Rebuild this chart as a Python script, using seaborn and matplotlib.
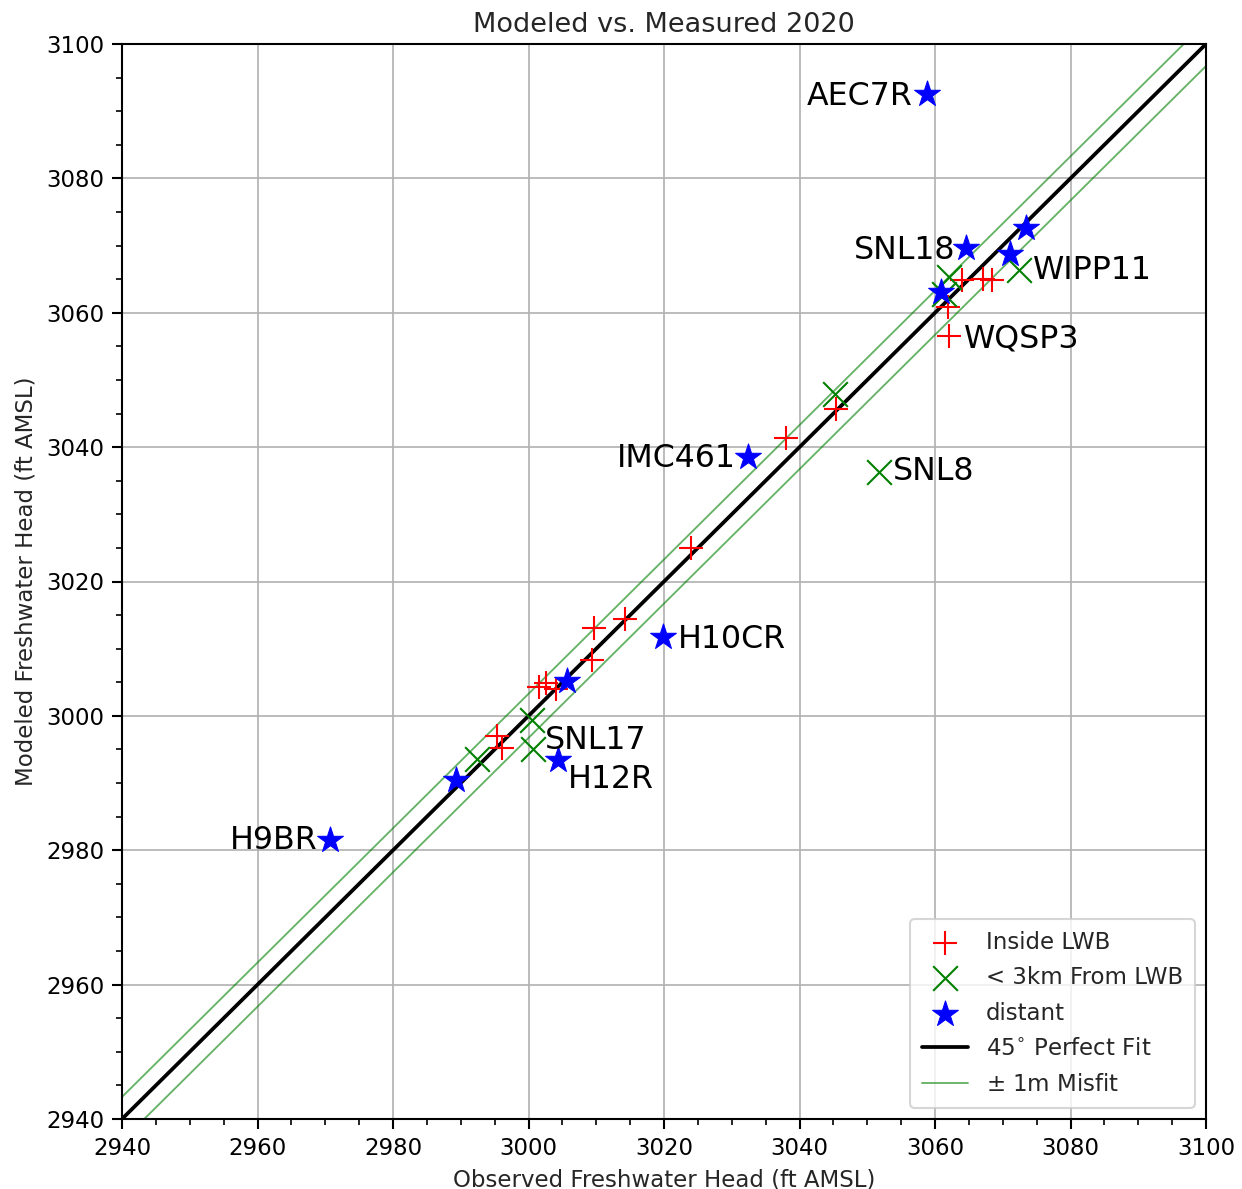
import matplotlib
matplotlib.use("Agg")
import matplotlib.pyplot as plt
import seaborn as sns
import numpy as np
import pandas as pd

# Data (ft AMSL)
inside_obs = [3062.1, 3061.9, 3064.0, 3067.1, 3068.4, 3038.0, 3045.4, 3024.0,
              3009.7, 3014.2, 3009.4, 3001.5, 3002.6, 3004.1, 2995.4, 2996.1]
inside_mod = [3056.5, 3060.9, 3064.9, 3065.0, 3064.9, 3041.4, 3045.7, 3025.0,
              3013.1, 3014.4, 3008.3, 3004.3, 3004.9, 3004.0, 2997.0, 2995.2]

near_obs = [3051.7, 3072.4, 3045.2, 3062.1, 3061.3, 3000.5, 3000.7, 2992.4]
near_mod = [3036.3, 3066.4, 3047.9, 3065.3, 3062.8, 2999.4, 2995.1, 2993.6]

distant_obs = [3058.8, 3064.6, 3073.4, 3071.1, 3060.9, 3032.4, 3019.9, 3005.7,
               3004.4, 2989.3, 2970.7]
distant_mod = [3092.6, 3069.6, 3072.6, 3068.7, 3063.1, 3038.5, 3011.7, 3005.2,
               2993.4, 2990.5, 2981.5]

label_names = ["AEC7R", "SNL18", "WIPP11", "WQSP3", "IMC461", "SNL8",
               "H10CR", "SNL17", "H12R", "H9BR"]
label_obs = [3058.8, 3064.6, 3072.4, 3062.1, 3032.4, 3051.7, 3019.9, 3000.7, 3004.4, 2970.7]
label_mod = [3092.6, 3069.6, 3066.4, 3056.5, 3038.5, 3036.3, 3011.7, 2995.1, 2993.4, 2981.5]

axis_range = [2940, 3100]
misfit_ft = 3.28

# label placement (offset in pixels, alignment)
label_style = {
    "AEC7R": (-14, -3, "right"),
    "SNL18": (-11, -2, "right"),
    "WIPP11": (14, -1, "left"),
    "WQSP3": (15, -3, "left"),
    "IMC461": (-12, -1, "right"),
    "SNL8": (14, 0, "left"),
    "H10CR": (15, -2, "left"),
    "SNL17": (12, 8, "left"),
    "H12R": (10, -19, "left"),
    "H9BR": (-12, 0, "right"),
}

sns.set_theme(style="ticks", rc={
    "axes.edgecolor": "black",
    "axes.linewidth": 1.0,
    "xtick.direction": "out",
    "ytick.direction": "out",
    "xtick.color": "black",
    "ytick.color": "black",
})
plt.rcParams["font.family"] = ["DejaVu Sans"]

fig = plt.figure(figsize=(1242 / 150, 1189 / 150), dpi=150)
ax = fig.add_axes([122 / 1242, 70 / 1189, (1206 - 122) / 1242, (1119 - 44) / 1189])

sns.scatterplot(x=inside_obs, y=inside_mod, marker="+", s=130, color="red",
                linewidth=1.0, ax=ax, label="Inside LWB", zorder=3)
sns.scatterplot(x=near_obs, y=near_mod, marker="x", s=140, color="green",
                linewidth=1.0, ax=ax, label="< 3km From LWB", zorder=3)
sns.scatterplot(x=distant_obs, y=distant_mod, marker="*", s=170, color="blue",
                edgecolor="blue", linewidth=0.5, ax=ax, label="distant", zorder=4)

line_x = np.array(axis_range, dtype=float)
sns.lineplot(x=line_x, y=line_x, color="black", linewidth=1.8, ax=ax,
             label=r"45$^{\circ}$ Perfect Fit", zorder=2)
sns.lineplot(x=line_x, y=line_x + misfit_ft, color="green", alpha=0.6,
             linewidth=0.9, ax=ax, label=r"$\pm$ 1m Misfit", zorder=2)
sns.lineplot(x=line_x, y=line_x - misfit_ft, color="green", alpha=0.6,
             linewidth=0.9, ax=ax, zorder=2)

for name, xo, yo in zip(label_names, label_obs, label_mod):
    dx, dy, ha = label_style[name]
    ax.annotate(name, (xo, yo), xytext=(dx, dy), textcoords="offset pixels",
                ha=ha, va="center", fontsize=15.2, color="black", zorder=5)

ax.set_xlim(axis_range)
ax.set_ylim(axis_range)
ax.set_xticks(np.arange(2940, 3101, 20))
ax.set_yticks(np.arange(2940, 3101, 20))
ax.set_xticks(np.arange(2940, 3101, 5), minor=True)
ax.set_yticks(np.arange(2940, 3101, 5), minor=True)
ax.tick_params(which="major", length=5, width=1, labelsize=11)
ax.tick_params(which="minor", length=3, width=0.8)
ax.grid(True, which="major", color="#b0b0b0", linewidth=0.8)
ax.set_axisbelow(True)

ax.set_title("Modeled vs. Measured 2020", fontsize=13)
ax.set_xlabel("Observed Freshwater Head (ft AMSL)", fontsize=11)
ax.set_ylabel("Modeled Freshwater Head (ft AMSL)", fontsize=11)

leg = ax.legend(loc="lower right", fontsize=11, frameon=True, fancybox=True,
                framealpha=0.8, edgecolor="#cccccc", borderpad=0.5,
                labelspacing=0.55)

fig.savefig("out.png", dpi=150)
